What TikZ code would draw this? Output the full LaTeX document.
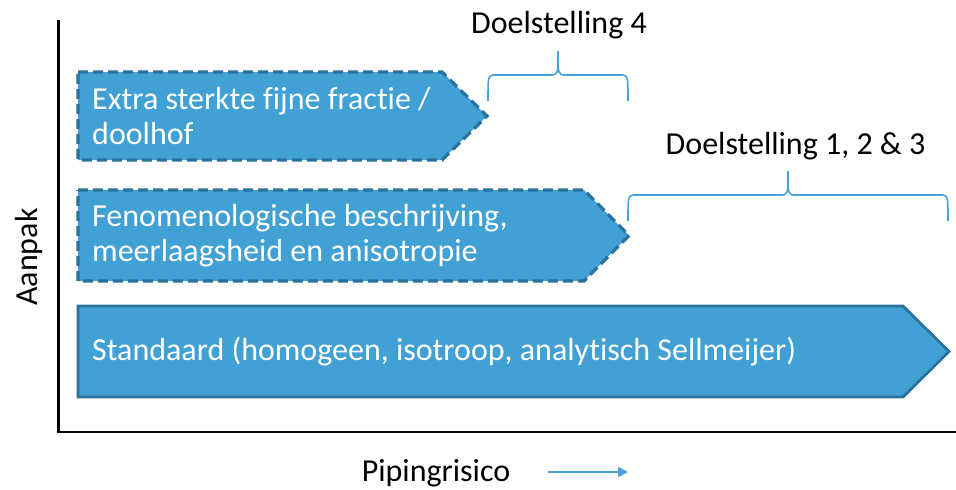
\documentclass[tikz,border=0pt]{standalone}
\usepackage{fontspec}
\setmainfont{Carlito}[Ligatures=NoCommon]
\usetikzlibrary{arrows.meta, positioning, calc}

\definecolor{barblue}{RGB}{65,160,212}
\definecolor{barline}{RGB}{42,113,158}
\definecolor{braceblue}{RGB}{72,163,218}

% curly brace: left x, right x, y of the feet
\newcommand{\goalbrace}[3]{%
  \draw[brace] (#1,#3) .. controls (#1,#3-26) .. (#1+8,#3-26)
    -- ({(#1+#2)/2-8},#3-26) .. controls ({(#1+#2)/2},#3-26) .. ({(#1+#2)/2},#3-50)
    .. controls ({(#1+#2)/2},#3-26) .. ({(#1+#2)/2+8},#3-26)
    -- (#2-8,#3-26) .. controls (#2,#3-26) .. (#2,#3);}

\begin{document}
\begin{tikzpicture}[
    x=1pt, y=-1pt,
    bar/.style={fill=barblue, draw=barline, line width=2.8pt, line join=miter},
    dashbar/.style={bar, line width=3.2pt, dash pattern=on 10pt off 5pt},
    bartext/.style={anchor=west, align=left, text=white, inner sep=0pt, font=\fontsize{32}{35}\selectfont},
    label/.style={inner sep=0pt, font=\fontsize{32}{35}\selectfont},
    brace/.style={draw=braceblue, line width=1.6pt},
    axis/.style={line width=2.2pt, line cap=rect},
    riskarrow/.style={draw=braceblue, line width=1.6pt, -{Triangle[length=10pt,width=10pt]}}
]
\useasboundingbox (0,0) rectangle (956,490);

% Axes
\coordinate (ytop) at (58.5,21);
\coordinate (origin) at (58.5,432);
\coordinate (xend) at (956,432);
\draw[axis] (ytop) -- (origin) -- (xend);

% Bars
\coordinate (tip1) at (487,116);
\coordinate (tip2) at (629,235.5);
\coordinate (tip3) at (949,351.5);
\draw[dashbar] (78,72) -- (442,72) -- (tip1) -- (442,160) -- (78,160) -- cycle;
\draw[dashbar] (78,190) -- (584,190) -- (tip2) -- (584,281) -- (78,281) -- cycle;
\draw[bar] (78,306) -- (903,306) -- (tip3) -- (903,397) -- (78,397) -- cycle;

\node[bartext] (fine) at (92,116) {Extra sterkte fijne fractie /\\doolhof};
\node[bartext] (feno) at (92,235.5) {Fenomenologische beschrijving,\\meerlaagsheid en anisotropie};
\node[bartext] (std) at (92,351.5) {Standaard (homogeen, isotroop, analytisch Sellmeijer)};

% Goals
\goalbrace{488}{628}{101}
\goalbrace{628}{948}{221}
\node[label, anchor=base] (goal4) at (559,33) {Doelstelling 4};
\node[label, anchor=base] (goal123) at (795.5,154) {Doelstelling 1, 2 \& 3};

% Axis labels
\node[label, rotate=90, anchor=base] (aanpak) at (37,257) {Aanpak};
\node[label, anchor=base] (pipe) at (436,481) {Pipingrisico};
\coordinate (riskfrom) at (548,472);
\coordinate (riskto) at (628,472);
\draw[riskarrow] (riskfrom) -- (riskto);
\end{tikzpicture}
\end{document}
